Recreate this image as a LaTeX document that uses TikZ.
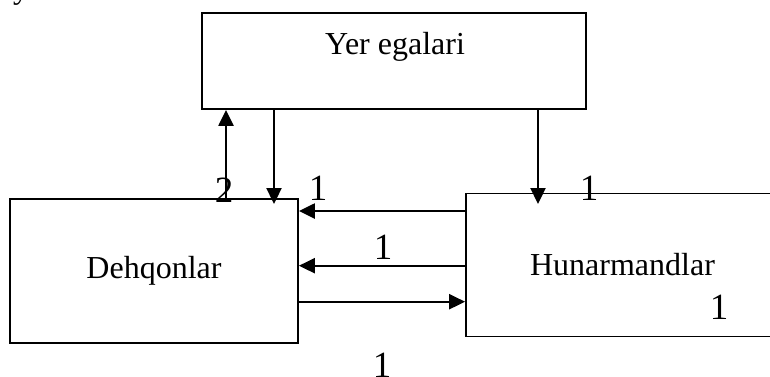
\documentclass[tikz,border=0pt]{standalone}
\usepackage{fontspec}
\setmainfont{Liberation Serif}
\usetikzlibrary{arrows.meta}

\begin{document}
\begin{tikzpicture}[
  x=1pt, y=-1pt,
  every node/.style={font=\fontsize{32}{38}\selectfont},
  box/.style={
    draw, line width=1.8pt, inner sep=0pt
  },
  num/.style={font=\fontsize{37}{42}\selectfont, inner sep=0pt},
  arrow/.style={-{Triangle[length=16pt,width=15pt]}, line width=2.3pt}
]
\useasboundingbox (0,0) rectangle (770,376);

% Nodes
\node[box, minimum width=384pt, minimum height=96pt] (yer) at (394,61) {};
\node[anchor=base, inner sep=0pt] (yertxt) at (395,54) {Yer egalari};
\node[box, minimum width=288pt, minimum height=144pt] (dehq) at (154,271) {Dehqonlar};
\node[box, minimum width=313pt, minimum height=143pt] (hunar) at (622.5,265) {Hunarmandlar};
\node[anchor=base west, inner sep=0pt] (ytop) at (13,-2) {y};

% Numbers
\node[num] (n2) at (224,190) {2};
\node[num] (n1a) at (318,188.5) {1};
\node[num] (n1b) at (383,247.5) {1};
\node[num] (n1c) at (589,188.7) {1};
\node[num] (n1d) at (719,307) {1};
\node[num] (n1e) at (382,365.5) {1};

% Arrows
\coordinate (dehqin) at (274,204);
\coordinate (hunarin) at (538,204);
\draw[arrow] (dehq.north -| 226,0) -- (yer.south -| 226,0);
\draw[arrow] (yer.south -| dehqin) -- (dehqin);
\draw[arrow] (yer.south -| hunarin) -- (hunarin);
\draw[arrow] (hunar.west |- 0,211) -- (dehq.east |- 0,211);
\draw[arrow] (hunar.west |- 0,265.7) -- (dehq.east |- 0,265.7);
\draw[arrow] (dehq.east |- 0,301.7) -- (hunar.west |- 0,301.7);
\end{tikzpicture}
\end{document}
